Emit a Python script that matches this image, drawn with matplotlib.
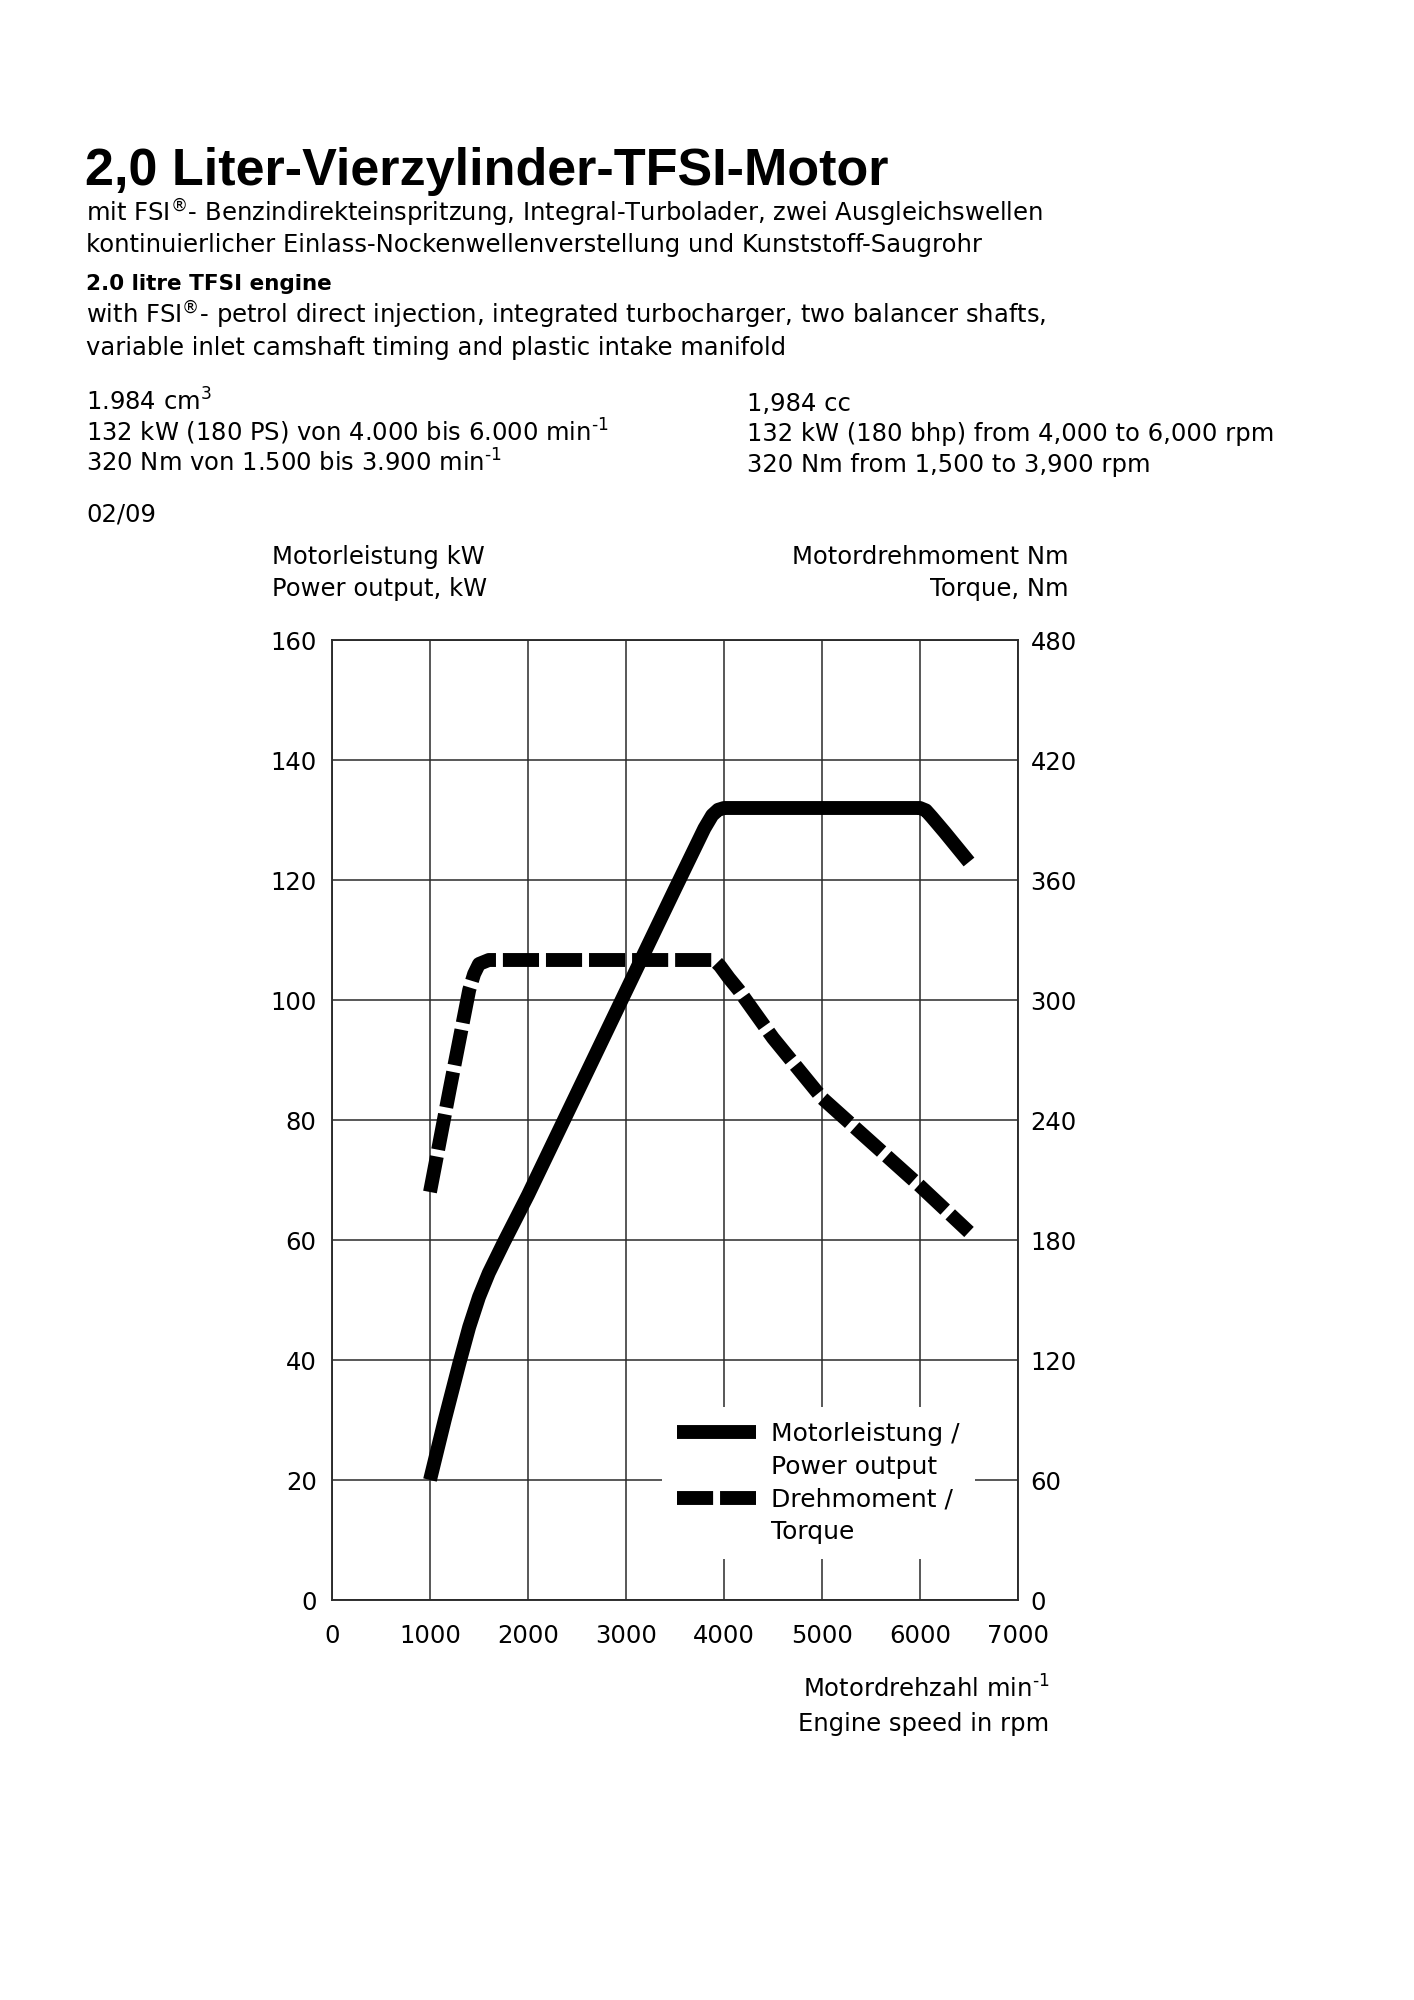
import matplotlib
matplotlib.use('Agg')
import matplotlib.pyplot as plt
from matplotlib.lines import Line2D

plt.rcParams['font.family'] = ['DejaVu Sans']
plt.rcParams['mathtext.default'] = 'regular'

# engine speed (rpm) / power (kW)
power_rpm = [1000, 1150, 1300, 1400, 1500, 1600, 1750, 2000, 2500, 3000, 3500,
             3800, 3880, 3940, 4000, 6000, 6060, 6120, 6250, 6500]
power_kw = [20, 30, 39.5, 45.5, 50.5, 54.5, 59.5, 67.5, 84.5, 101.5, 118.5,
            128.6, 130.8, 131.7, 132, 132, 131.6, 130.5, 128, 123]

# engine speed (rpm) / torque (Nm)
torque_rpm = [1000, 1200, 1400, 1450, 1500, 1600, 3900, 3960, 4050, 4150,
              4500, 5000, 5500, 6000, 6500]
torque_nm = [204, 255, 305, 313, 318, 320, 320, 317, 311, 305,
             281, 251, 229, 207, 184]

x_ticks = list(range(0, 7001, 1000))
kw_ticks = list(range(0, 161, 20))
nm_ticks = list(range(0, 481, 60))

W, H = 1414, 2000
fig = plt.figure(figsize=(W / 100, H / 100), dpi=100)
fig.patch.set_facecolor('white')

fs = 17.5


def txt(x, y, s, **kw):
    # x, y in pixels from top-left, y is the baseline
    fig.text(x / W, 1 - y / H, s, va='baseline', **kw)


txt(85, 185, '2,0 Liter-Vierzylinder-TFSI-Motor', family='Liberation Sans',
    fontweight='bold', fontsize=37.5)
txt(86, 222, 'mit FSI$^{®}$- Benzindirekteinspritzung, Integral-Turbolader, zwei Ausgleichswellen',
    fontsize=fs)
txt(86, 252, 'kontinuierlicher Einlass-Nockenwellenverstellung und Kunststoff-Saugrohr',
    fontsize=fs)
txt(86, 290, '2.0 litre TFSI engine', fontweight='bold', fontsize=15.5)
txt(86, 324, 'with FSI$^{®}$- petrol direct injection, integrated turbocharger, two balancer shafts,',
    fontsize=fs)
txt(86, 355, 'variable inlet camshaft timing and plastic intake manifold', fontsize=fs)

sup = '$^{\\text{-1}}$'
txt(86, 411, '1.984 cm$^{3}$', fontsize=fs)
txt(86, 441, '132 kW (180 PS) von 4.000 bis 6.000 min' + sup, fontsize=fs)
txt(86, 472, '320 Nm von 1.500 bis 3.900 min' + sup, fontsize=fs)
txt(747, 411, '1,984 cc', fontsize=fs)
txt(747, 441, '132 kW (180 bhp) from 4,000 to 6,000 rpm', fontsize=fs)
txt(747, 472, '320 Nm from 1,500 to 3,900 rpm', fontsize=fs)
txt(86, 521, '02/09', fontsize=fs)

txt(272, 564, 'Motorleistung kW', fontsize=fs)
txt(272, 596, 'Power output, kW', fontsize=fs)
txt(1068, 564, 'Motordrehmoment Nm', fontsize=fs, ha='right')
txt(1068, 596, 'Torque, Nm', fontsize=fs, ha='right')

txt(1049, 1698, 'Motordrehzahl min' + sup, fontsize=fs, ha='right')
txt(1049, 1731, 'Engine speed in rpm', fontsize=fs, ha='right')

ax = fig.add_axes([332 / W, 1 - 1600 / H, 686 / W, 960 / H])
ax2 = ax.twinx()

grid_c = '#2a2a2a'
ax.set_xlim(0, 7000)
ax.set_ylim(0, 160)
ax2.set_ylim(0, 480)
ax.set_xticks(x_ticks)
ax.set_yticks(kw_ticks)
ax2.set_yticks(nm_ticks)
ax.grid(True, color=grid_c, linewidth=1.1)
ax.set_axisbelow(True)
for a in (ax, ax2):
    for sp in a.spines.values():
        sp.set_color(grid_c)
        sp.set_linewidth(1.1)
ax.tick_params(axis='both', length=0, labelsize=17.5)
ax.tick_params(axis='x', pad=17)
ax.tick_params(axis='y', pad=11)
ax2.tick_params(axis='y', length=0, labelsize=17.5, pad=9)

ax.plot(power_rpm, power_kw, color='black', linewidth=10,
        solid_joinstyle='round', solid_capstyle='butt')
ax2.plot(torque_rpm, torque_nm, color='black', linewidth=10,
         linestyle=(0, (2.6, 0.5)), dash_capstyle='butt', dash_joinstyle='round')

handles = [
    Line2D([], [], color='black', linewidth=10, solid_capstyle='butt'),
    Line2D([], [], color='none'),
    Line2D([], [], color='black', linewidth=10, linestyle=(0, (2.6, 0.5)),
           dash_capstyle='butt'),
    Line2D([], [], color='none'),
]
labels = ['Motorleistung /', 'Power output', 'Drehmoment /', 'Torque']
leg = ax2.legend(handles, labels, loc='upper left',
                 bbox_to_anchor=((662 - 332) / 686, (1600 - 1407) / 960),
                 fontsize=18, handlelength=3.16, handletextpad=0.6,
                 labelspacing=0.35, borderpad=0.6, borderaxespad=0,
                 frameon=True, fancybox=False, framealpha=1,
                 facecolor='white', edgecolor='none')

fig.savefig('out.png', dpi=100, facecolor='white')
